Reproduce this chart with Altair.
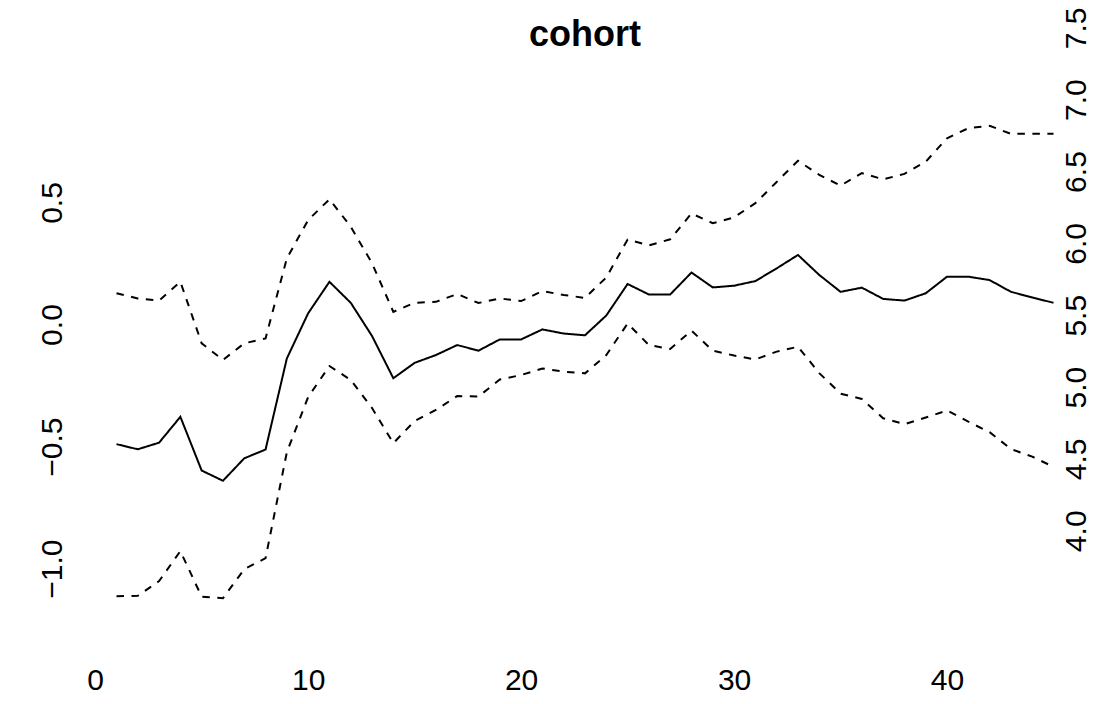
import altair as alt
import pandas as pd

# Cohort effect estimate with its upper and lower bands, one value per cohort index
cohort_index = list(range(1, 46))
estimate = [
    -0.490, -0.511, -0.484, -0.378, -0.598, -0.640, -0.548, -0.512, -0.139, 0.046,
    0.175, 0.089, -0.047, -0.220, -0.157, -0.125, -0.084, -0.107, -0.061, -0.061,
    -0.020, -0.037, -0.044, 0.037, 0.166, 0.123, 0.123, 0.213, 0.152, 0.159,
    0.178, 0.230, 0.285, 0.203, 0.134, 0.151, 0.105, 0.098, 0.128, 0.196,
    0.196, 0.182, 0.134, 0.111, 0.089,
]
upper = [
    0.128, 0.107, 0.098, 0.175, -0.077, -0.145, -0.077, -0.057, 0.271, 0.428,
    0.513, 0.401, 0.251, 0.052, 0.089, 0.093, 0.125, 0.088, 0.107, 0.096,
    0.137, 0.121, 0.109, 0.193, 0.348, 0.324, 0.349, 0.455, 0.415, 0.439,
    0.497, 0.584, 0.671, 0.613, 0.569, 0.620, 0.595, 0.617, 0.667, 0.763,
    0.804, 0.814, 0.781, 0.781, 0.781,
]
lower = [
    -1.113, -1.111, -1.051, -0.928, -1.115, -1.121, -1.002, -0.957, -0.523, -0.297,
    -0.170, -0.227, -0.342, -0.486, -0.395, -0.350, -0.293, -0.295, -0.225, -0.207,
    -0.180, -0.193, -0.200, -0.125, 0.004, -0.084, -0.100, -0.025, -0.107, -0.127,
    -0.143, -0.111, -0.091, -0.199, -0.283, -0.305, -0.384, -0.408, -0.381, -0.352,
    -0.398, -0.441, -0.510, -0.541, -0.583,
]

# Tick labels
x_ticks = [0, 10, 20, 30, 40]
left_ticks = [-1.0, -0.5, 0.0, 0.5]
right_ticks = [4.0, 4.5, 5.0, 5.5, 6.0, 6.5, 7.0, 7.5]

FONT = "Liberation Sans"
W, H = 1012, 510

series = pd.DataFrame({"i": cohort_index, "estimate": estimate, "upper": upper, "lower": lower})
long = series.melt(id_vars="i", var_name="series", value_name="value")

x_scale = alt.Scale(domain=[-0.76, 46.76], nice=False, zero=False)

lines = alt.Chart(long).mark_line(color="black", strokeWidth=2).encode(
    x=alt.X("i:Q", scale=x_scale,
            axis=alt.Axis(values=x_ticks, title=None, grid=False, domain=False, ticks=False,
                          tickSize=0, labelFontSize=30, labelFont=FONT, labelColor="black",
                          labelPadding=72, labelBaseline="alphabetic", labelFlush=False,
                          labelOverlap=False)),
    y=alt.Y("value:Q", scale=alt.Scale(domain=[-1.198, 0.891], nice=False, zero=False),
            axis=alt.Axis(values=left_ticks, format=".1f", title=None, grid=False,
                          domain=False, ticks=False, tickSize=0, labelFontSize=30,
                          labelFont=FONT, labelColor="black", labelAngle=270,
                          labelAlign="center", labelBaseline="alphabetic", labelPadding=18,
                          labelOverlap=False, labelFlush=False, orient="left")),
    strokeDash=alt.StrokeDash("series:N",
                              scale=alt.Scale(domain=["estimate", "upper", "lower"],
                                              range=[[1, 0], [7.5, 7.5], [7.5, 7.5]]),
                              legend=None),
    detail="series:N",
)

# Secondary scale shown on the right-hand side
right_df = pd.DataFrame({"r": right_ticks})
right_axis = alt.Chart(right_df).mark_point(opacity=0, size=1).encode(
    x=alt.value(0),
    y=alt.Y("r:Q", scale=alt.Scale(domain=[3.4, 7.6], range=[H, H - 4.2 * 143.7],
                                   nice=False, zero=False),
            axis=alt.Axis(values=right_ticks, format=".1f", title=None, grid=False,
                          domain=False, ticks=False, tickSize=0, labelFontSize=30,
                          labelFont=FONT, labelColor="black", labelAngle=270,
                          labelAlign="center", labelBaseline="alphabetic", labelPadding=0,
                          offset=-6, labelOverlap=False, labelFlush=False, orient="right")),
)

chart = alt.layer(lines, right_axis).resolve_scale(y="independent").properties(
    width=W,
    height=H,
    background="white",
    title=alt.TitleParams("cohort", font=FONT, fontSize=36, fontWeight="bold",
                          color="black", anchor="middle", baseline="alphabetic", offset=-75),
    autosize=alt.AutoSizeParams(type="none"),
    padding={"left": 79, "top": 107, "right": 9, "bottom": 87},
).configure_view(stroke=None)

chart.save("out.html", embed_options={"renderer": "svg", "actions": False})
